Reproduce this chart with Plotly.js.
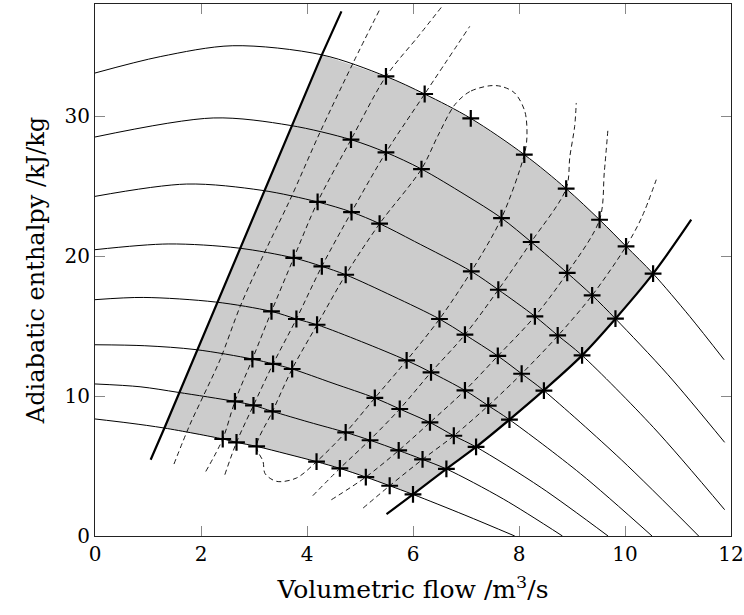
<!DOCTYPE html>
<html><head><meta charset="utf-8">
<script src="https://cdn.plot.ly/plotly-3.0.1.min.js"></script>
<style>html,body{margin:0;padding:0;background:#fff}#chart{width:744px;height:615px}</style>
</head><body><div id="chart"></div>
<script>
// Speed lines (solid)
const n1x=[0,1.23,2.60,4.28,5.49,6.22,7.09,8.10,8.89,9.52,10.02,10.53,11.22,11.87];
const n1y=[33.07,34.24,35.02,34.37,32.83,31.57,29.83,27.24,24.81,22.59,20.69,18.74,15.69,12.59];
const n2x=[0,2.23,3.68,4.83,5.49,6.16,6.98,7.67,8.23,8.91,9.38,9.82,10.81,11.88];
const n2y=[28.5,29.86,29.33,28.31,27.4,26.21,24.38,22.71,21.0,18.79,17.19,15.52,11.52,6.69];
const n3x=[0,1.73,3.15,4.20,4.84,5.37,6.03,7.10,7.61,8.30,8.73,9.19,10.54,11.88];
const n3y=[24.26,25.14,24.69,23.86,23.14,22.31,21.04,18.9,17.59,15.69,14.33,12.9,7.74,1.88];
const n4x=[0,1.38,2.70,3.75,4.28,4.73,5.62,6.50,6.98,7.60,8.05,8.47,9.93,11.39];
const n4y=[20.45,20.86,20.57,19.86,19.26,18.66,17.13,15.5,14.38,12.86,11.59,10.38,5.45,0];
const n5x=[0,0.91,2.28,3.33,3.80,4.19,5.03,5.88,6.34,6.98,7.42,7.82,9.16,10.51];
const n5y=[16.88,17.04,16.71,16.04,15.5,15.09,13.88,12.54,11.69,10.4,9.31,8.31,4.45,0];
const n6x=[0,0.94,1.91,2.97,3.36,3.72,4.49,5.28,5.75,6.32,6.77,7.19,8.42,9.68];
const n6y=[13.66,13.59,13.31,12.64,12.29,11.93,10.91,9.86,9.07,8.11,7.16,6.36,3.45,0];
const n7x=[0,0.85,1.57,2.64,2.99,3.35,4.04,4.73,5.19,5.73,6.18,6.63,7.71,8.82];
const n7y=[10.86,10.66,10.26,9.61,9.33,8.9,8.13,7.4,6.84,6.11,5.47,4.79,2.63,0];
const n8x=[0,0.66,1.31,2.41,2.67,3.05,3.62,4.18,4.62,5.11,5.56,6.00,6.98,7.92];
const n8y=[8.36,8.06,7.71,6.93,6.69,6.4,5.86,5.31,4.83,4.21,3.59,2.97,1.49,0];

// Surge and choke limits (thick)
const surgeX=[1.05,1.31,4.28,4.65];
const surgeY=[5.45,7.71,34.37,37.47];
const chokeX=[5.50,6.00,6.63,7.19,7.82,8.46,9.19,9.82,10.53,11.25];
const chokeY=[1.56,2.97,4.79,6.36,8.31,10.38,12.9,15.52,18.74,22.59];

// Measured points (+)
const ptX=[5.49,6.22,7.09,8.10,8.89,9.52,10.02,10.53,
 4.83,5.49,6.16,7.67,8.23,8.91,9.38,9.82,
 4.20,4.84,5.37,7.10,7.61,8.30,8.73,9.19,
 3.75,4.28,4.73,6.50,6.98,7.60,8.05,8.47,
 3.33,3.80,4.19,5.88,6.34,6.98,7.42,7.82,
 2.97,3.36,3.72,5.28,5.75,6.32,6.77,7.19,
 2.64,2.99,3.35,4.73,5.19,5.73,6.18,6.63,
 2.41,2.67,3.05,4.18,4.62,5.11,5.56,6.00];
const ptY=[32.83,31.57,29.83,27.24,24.81,22.59,20.69,18.74,
 28.31,27.4,26.21,22.71,21.0,18.79,17.19,15.52,
 23.86,23.14,22.31,18.9,17.59,15.69,14.33,12.9,
 19.86,19.26,18.66,15.5,14.38,12.86,11.59,10.38,
 16.04,15.5,15.09,12.54,11.69,10.4,9.31,8.31,
 12.64,12.29,11.93,9.86,9.07,8.11,7.16,6.36,
 9.61,9.33,8.9,7.4,6.84,6.11,5.47,4.79,
 6.93,6.69,6.4,5.31,4.83,4.21,3.59,2.97];

// Efficiency contours (dashed)
const e0x=[1.49,1.79,2.04,2.36,2.74,3.21,3.68,4.24,4.87,5.37];
const e0y=[5.14,7.95,9.97,12.59,16.4,20.33,24.02,28.79,33.79,37.59];
const e1x=[2.09,2.41,2.64,2.97,3.33,3.75,4.20,4.83,5.49,6.10,6.54];
const e1y=[4.61,6.93,9.61,12.64,16.04,19.86,23.86,28.31,32.83,35.69,37.79];
const e2x=[2.45,2.67,2.99,3.36,3.80,4.28,4.84,5.49,6.22,7.07];
const e2y=[4.38,6.69,9.33,12.29,15.5,19.26,23.14,27.4,31.57,36.4];
const loopX=[7.45,7.07,6.79,6.47,6.16,5.37,4.73,4.19,3.72,3.35,3.05,3.17,3.21,3.43,3.80,4.18,4.73,5.28,5.88,6.50,7.10,7.67,8.10,8.15,8.11,7.92,7.67,7.45];
const loopY=[32.16,31.74,30.81,28.59,26.21,22.31,18.66,15.09,11.93,8.9,6.4,5.33,4.45,3.9,4.14,5.31,7.4,9.86,12.54,15.5,18.9,22.71,27.24,28.54,30.33,31.64,32.11,32.16];
const r2x=[4.11,4.62,5.18,5.75,6.34,6.98,7.61,8.23,8.89,8.96,9.05,9.08];
const r2y=[2.88,4.83,6.84,9.07,11.69,14.38,17.59,21.0,24.81,27.11,29.26,30.93];
const r3x=[4.46,5.11,5.73,6.32,6.98,7.60,8.30,8.91,9.52,9.61,9.68];
const r3y=[2.59,4.21,6.11,8.11,10.4,12.86,15.69,18.79,22.59,26.02,29.14];
const r4x=[5.06,5.56,6.18,6.77,7.42,8.05,8.74,9.38,10.02,10.31,10.59];
const r4y=[2.0,3.59,5.47,7.16,9.31,11.59,14.33,17.19,20.69,22.71,25.45];

const xTicks=[0,2,4,6,8,10,12];
const yTicks=[0,10,20,30];

// shaded operating region built from the boundary curves
function between(xs,ys,key,lo,hi){const px=[],py=[];for(let i=0;i<xs.length;i++){const v=key==='x'?xs[i]:ys[i];if(v>=lo-1e-9&&v<=hi+1e-9){px.push(xs[i]);py.push(ys[i]);}}return [px,py];}
const sL8=[surgeX[1],surgeY[1]], sL1=[surgeX[2],surgeY[2]];
const cL1=[chokeX[8],chokeY[8]], cL8=[chokeX[1],chokeY[1]];
const a=between(surgeX,surgeY,'y',sL8[1],sL1[1]);
const b=between(n1x,n1y,'x',sL1[0],cL1[0]);
const c=between(chokeX,chokeY,'y',cL8[1],cL1[1]);
const d=between(n8x,n8y,'x',sL8[0],cL8[0]);
const polyX=[...a[0],...b[0],...c[0].slice().reverse(),...d[0].slice().reverse()];
const polyY=[...a[1],...b[1],...c[1].slice().reverse(),...d[1].slice().reverse()];

const traces=[];
traces.push({x:polyX,y:polyY,type:'scatter',mode:'lines',fill:'toself',fillcolor:'#cccccc',line:{width:0},hoverinfo:'skip'});
const speeds=[[n1x,n1y],[n2x,n2y],[n3x,n3y],[n4x,n4y],[n5x,n5y],[n6x,n6y],[n7x,n7y],[n8x,n8y]];
speeds.forEach(s=>traces.push({x:s[0],y:s[1],type:'scatter',mode:'lines',line:{color:'#000',width:1,shape:'spline',smoothing:0.9}}));
const effs=[[e0x,e0y],[e1x,e1y],[e2x,e2y],[loopX,loopY],[r2x,r2y],[r3x,r3y],[r4x,r4y]];
effs.forEach(s=>traces.push({x:s[0],y:s[1],type:'scatter',mode:'lines',line:{color:'#000',width:0.9,dash:'5px,3.5px',shape:'spline',smoothing:0.9}}));
traces.push({x:surgeX,y:surgeY,type:'scatter',mode:'lines',line:{color:'#000',width:2.2}});
traces.push({x:chokeX,y:chokeY,type:'scatter',mode:'lines',line:{color:'#000',width:2.2,shape:'spline',smoothing:1}});
traces.push({x:ptX,y:ptY,type:'scatter',mode:'markers',marker:{symbol:'cross-thin',size:12,color:'#000',line:{color:'#000',width:2.2}}});

const fam='DejaVu Serif, serif';
const layout={
 width:744,height:615,showlegend:false,
 paper_bgcolor:'#fff',plot_bgcolor:'#fff',
 margin:{l:95,r:13,t:4,b:79},
 font:{family:fam,size:20,color:'#000'},
 xaxis:{range:[0,12],tickvals:xTicks,ticktext:xTicks.map(String),ticks:'inside',ticklen:10,tickcolor:'#888',tickwidth:1,mirror:'ticks',showline:true,linecolor:'#222',linewidth:1,showgrid:false,zeroline:false,
   tickfont:{family:fam,size:20},title:{text:'Volumetric flow /m<sup>3</sup>/s',font:{family:fam,size:25},standoff:15}},
 yaxis:{range:[0,38],tickvals:yTicks,ticktext:yTicks.map(String),ticks:'inside',ticklen:10,tickcolor:'#888',tickwidth:1,mirror:'ticks',showline:true,linecolor:'#222',linewidth:1,showgrid:false,zeroline:false,
   tickfont:{family:fam,size:20},title:{text:'Adiabatic enthalpy /kJ/kg',font:{family:fam,size:24},standoff:13}}
};
Plotly.newPlot('chart',traces,layout,{staticPlot:true,displayModeBar:false});
</script></body></html>
